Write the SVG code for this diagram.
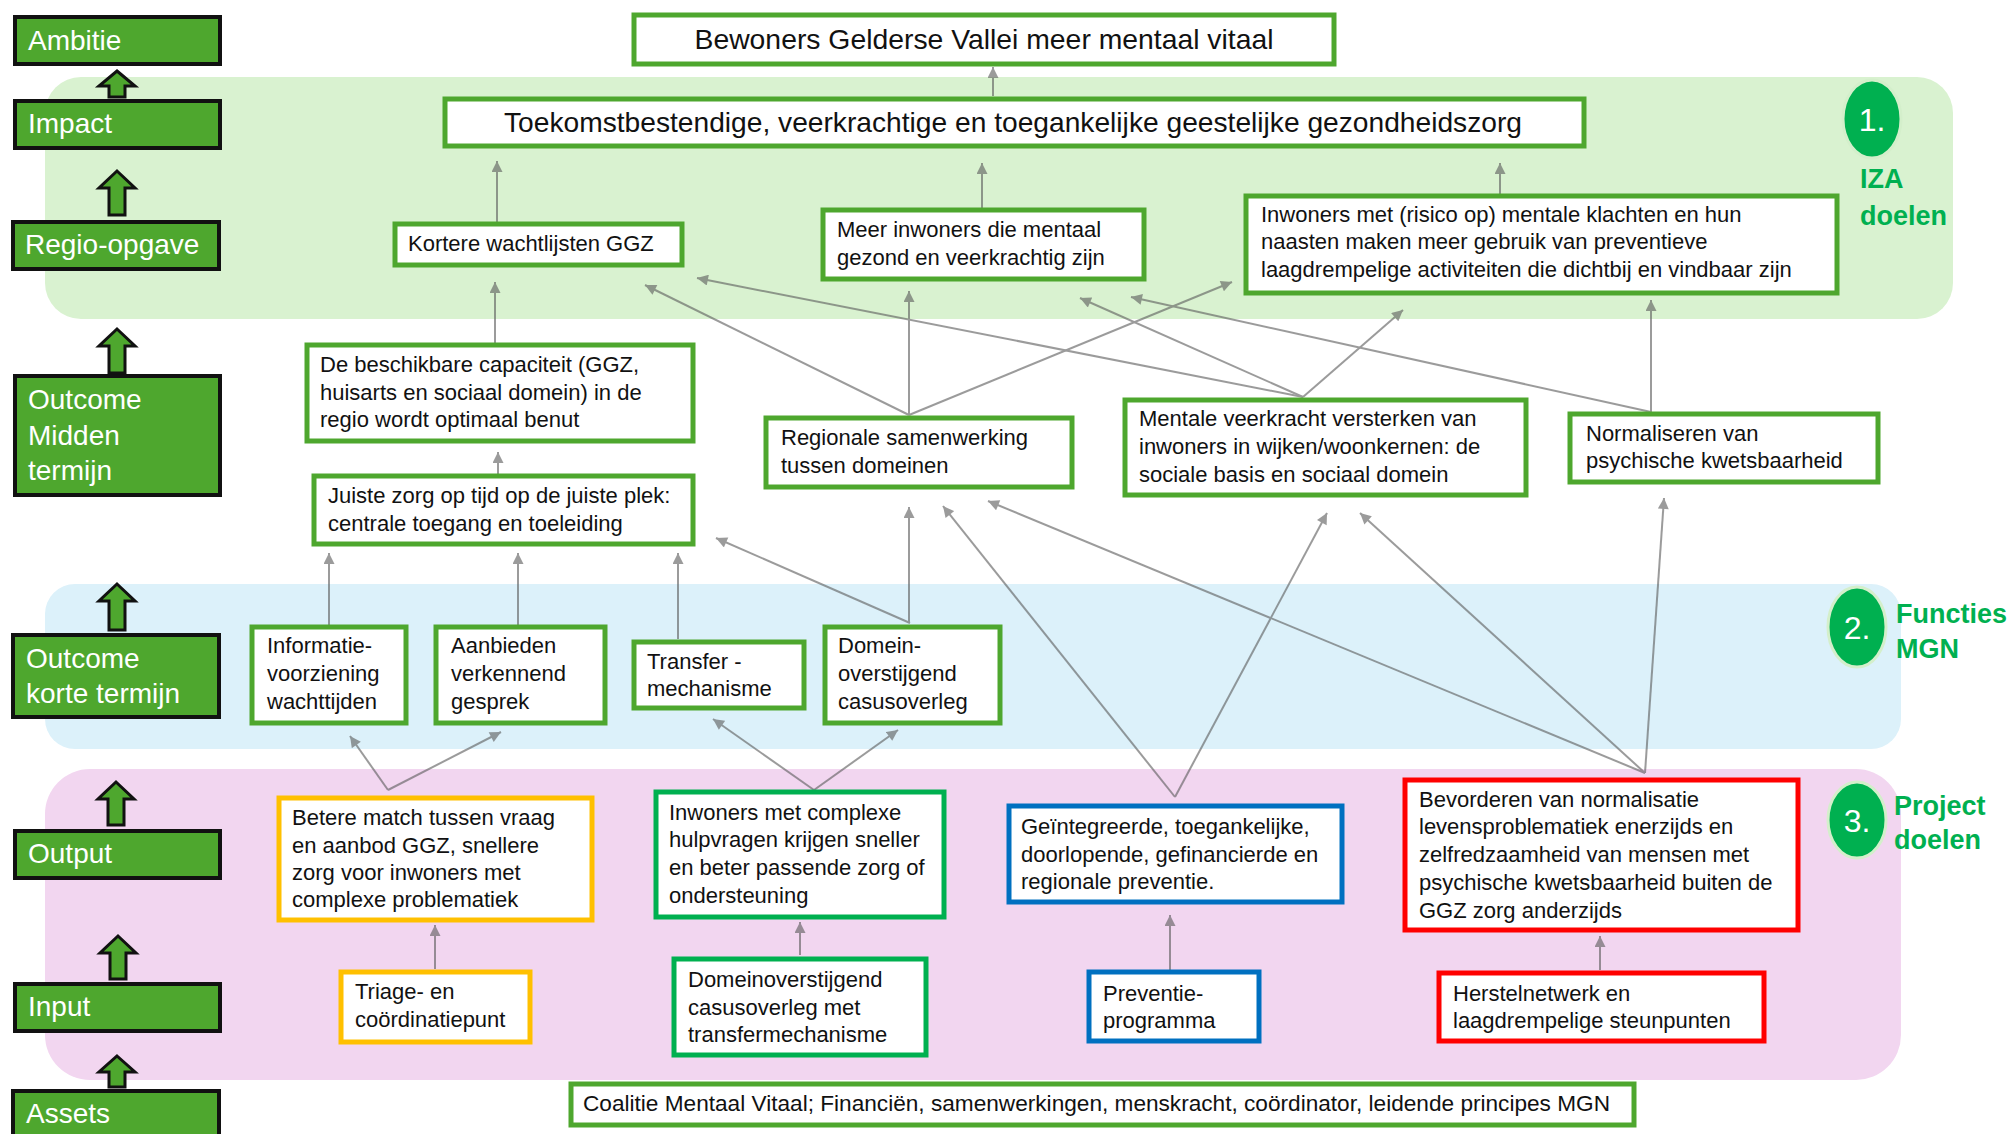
<svg xmlns="http://www.w3.org/2000/svg" width="2014" height="1134" viewBox="0 0 2014 1134">
  <style>
    .lvl { fill: #4EA72E; stroke: #111; stroke-width: 4; }
    .lvlt { font-family: "Liberation Sans", Arial, sans-serif; font-size: 28px; fill: #fff; }
    .blk { fill: #4EA72E; stroke: #111; stroke-width: 3; stroke-linejoin: miter; }
    .box { fill: #fff; stroke-width: 5; }
    .g { stroke: #4EA72E; }
    .y { stroke: #FFC000; }
    .gd { stroke: #00B050; }
    .b { stroke: #0070C0; }
    .r { stroke: #FF0000; }
    .t { font-family: "Liberation Sans", Arial, sans-serif; font-size: 22px; fill: #111; }
    .big { font-family: "Liberation Sans", Arial, sans-serif; font-size: 28px; fill: #111; }
    .num { font-family: "Liberation Sans", Arial, sans-serif; font-size: 32px; fill: #fff; text-anchor: middle; }
    .tag { font-family: "Liberation Sans", Arial, sans-serif; font-size: 27px; font-weight: bold; fill: #00B050; }
    .badge { fill: #00B050; stroke: #D4EFCB; stroke-width: 3; }
    .cn line { stroke: #5a5a5a; stroke-width: 2; marker-end: url(#ah); }
  </style>
  <defs>
    <marker id="ah" viewBox="0 0 10 10" refX="10" refY="5" markerWidth="12" markerHeight="11" markerUnits="userSpaceOnUse" orient="auto">
      <path d="M0,0 L10,5 L0,10 z" fill="#5a5a5a"/>
    </marker>
  </defs>

  <rect width="2014" height="1134" fill="#fff"/>

  <!-- layer bands -->
  <rect id="band-iza" x="45" y="77" width="1908" height="242" rx="36" fill="#D9F2D0"/>
  <rect id="band-functies" x="45" y="584" width="1856" height="165" rx="30" fill="#DCF1FA"/>
  <rect id="band-project" x="45" y="769" width="1856" height="311" rx="45" fill="#F2D6F0"/>

  <!-- level column -->
  <g id="lvl-ambitie"><rect class="lvl" x="15" y="17" width="205" height="47"/><text class="lvlt" x="28" y="50">Ambitie</text></g>
  <g id="lvl-impact"><rect class="lvl" x="15" y="101" width="205" height="47"/><text class="lvlt" x="28" y="133">Impact</text></g>
  <g id="lvl-regio"><rect class="lvl" x="13" y="222" width="206" height="47"/><text class="lvlt" x="25" y="254">Regio-opgave</text></g>
  <g id="lvl-midden"><rect class="lvl" x="15" y="376" width="205" height="119"/><text class="lvlt" x="28" y="409">Outcome<tspan x="28" y="445">Midden</tspan><tspan x="28" y="480">termijn</tspan></text></g>
  <g id="lvl-kort"><rect class="lvl" x="13" y="635" width="206" height="82"/><text class="lvlt" x="26" y="668">Outcome<tspan x="26" y="703">korte termijn</tspan></text></g>
  <g id="lvl-output"><rect class="lvl" x="15" y="831" width="205" height="47"/><text class="lvlt" x="28" y="863">Output</text></g>
  <g id="lvl-input"><rect class="lvl" x="15" y="984" width="205" height="47"/><text class="lvlt" x="28" y="1016">Input</text></g>
  <g id="lvl-assets"><rect class="lvl" x="13" y="1091" width="206" height="60"/><text class="lvlt" x="26" y="1123">Assets</text></g>

  <!-- level arrows -->
  <g id="lvl-arrows">
    <path class="blk" d="M117,71 L135,86 L125,86 L125,97 L109,97 L109,86 L99,86 Z"/>
    <path class="blk" d="M117,171 L135,188 L125,188 L125,215 L109,215 L109,188 L99,188 Z"/>
    <path class="blk" d="M117,329 L135,346 L125,346 L125,373 L109,373 L109,346 L99,346 Z"/>
    <path class="blk" d="M117,584 L135,601 L125,601 L125,630 L109,630 L109,601 L99,601 Z"/>
    <path class="blk" d="M116,782 L134,799 L124,799 L124,825 L108,825 L108,799 L98,799 Z"/>
    <path class="blk" d="M118,936 L136,953 L126,953 L126,979 L110,979 L110,953 L100,953 Z"/>
    <path class="blk" d="M117,1056 L135,1072 L125,1072 L125,1087 L109,1087 L109,1072 L99,1072 Z"/>
  </g>

  <!-- badges -->
  <g id="badge-1"><ellipse class="badge" cx="1872" cy="119" rx="29" ry="39"/><text class="num" x="1872" y="131">1.</text>
    <text class="tag" x="1860" y="188">IZA</text><text class="tag" x="1860" y="225">doelen</text></g>
  <g id="badge-2"><ellipse class="badge" cx="1857" cy="627" rx="29" ry="40"/><text class="num" x="1857" y="639">2.</text>
    <text class="tag" x="1896" y="623">Functies</text><text class="tag" x="1896" y="658">MGN</text></g>
  <g id="badge-3"><ellipse class="badge" cx="1857" cy="820" rx="29" ry="38"/><text class="num" x="1857" y="832">3.</text>
    <text class="tag" x="1894" y="815">Project</text><text class="tag" x="1894" y="849">doelen</text></g>

  <!-- connectors -->
  <g id="connectors" class="cn" opacity="0.6">
    <line x1="993" y1="96" x2="993" y2="67"/>
    <line x1="497" y1="222" x2="497" y2="161"/>
    <line x1="982" y1="208" x2="982" y2="163"/>
    <line x1="1500" y1="194" x2="1500" y2="163"/>
    <line x1="495" y1="343" x2="495" y2="282"/>
    <line x1="498" y1="474" x2="498" y2="452"/>
    <line x1="909" y1="415" x2="645" y2="285"/>
    <line x1="909" y1="415" x2="909" y2="291"/>
    <line x1="909" y1="415" x2="1232" y2="282"/>
    <line x1="1303" y1="397" x2="697" y2="278"/>
    <line x1="1303" y1="397" x2="1080" y2="298"/>
    <line x1="1303" y1="397" x2="1403" y2="310"/>
    <line x1="1651" y1="412" x2="1131" y2="297"/>
    <line x1="1651" y1="412" x2="1651" y2="300"/>
    <line x1="329" y1="625" x2="329" y2="553"/>
    <line x1="518" y1="625" x2="518" y2="553"/>
    <line x1="678" y1="639" x2="678" y2="553"/>
    <line x1="910" y1="623" x2="716" y2="538"/>
    <line x1="909" y1="623" x2="909" y2="507"/>
    <line x1="1175" y1="797" x2="943" y2="506"/>
    <line x1="1175" y1="797" x2="1327" y2="513"/>
    <line x1="1645" y1="773" x2="988" y2="501"/>
    <line x1="1645" y1="773" x2="1360" y2="513"/>
    <line x1="1645" y1="773" x2="1664" y2="498"/>
    <line x1="388" y1="790" x2="350" y2="736"/>
    <line x1="388" y1="790" x2="501" y2="732"/>
    <line x1="814" y1="790" x2="713" y2="719"/>
    <line x1="814" y1="790" x2="898" y2="730"/>
    <line x1="435" y1="969" x2="435" y2="925"/>
    <line x1="800" y1="955" x2="800" y2="922"/>
    <line x1="1170" y1="970" x2="1170" y2="915"/>
    <line x1="1600" y1="970" x2="1600" y2="936"/>
  </g>

  <!-- IZA goals -->
  <g id="n-ambitie"><rect class="box g" x="634" y="15" width="700" height="49"/>
    <text class="big" x="984" y="49" text-anchor="middle" textLength="579" lengthAdjust="spacingAndGlyphs">Bewoners Gelderse Vallei meer mentaal vitaal</text></g>
  <g id="n-impact"><rect class="box g" x="445" y="99" width="1139" height="47"/>
    <text class="big" x="1013" y="132" text-anchor="middle" textLength="1018" lengthAdjust="spacingAndGlyphs">Toekomstbestendige, veerkrachtige en toegankelijke geestelijke gezondheidszorg</text></g>
  <g id="n-wachtlijsten"><rect class="box g" x="395" y="224" width="287" height="41"/>
    <text class="t" x="408" y="251">Kortere wachtlijsten GGZ</text></g>
  <g id="n-veerkrachtig"><rect class="box g" x="823" y="210" width="321" height="69"/>
    <text class="t" x="837" y="237">Meer inwoners die mentaal<tspan x="837" y="265">gezond en veerkrachtig zijn</tspan></text></g>
  <g id="n-preventief"><rect class="box g" x="1246" y="196" width="591" height="97"/>
    <text class="t" x="1261" y="222">Inwoners met (risico op) mentale klachten en hun<tspan x="1261" y="249">naasten maken meer gebruik van preventieve</tspan><tspan x="1261" y="277">laagdrempelige activiteiten die dichtbij en vindbaar zijn</tspan></text></g>

  <!-- medium-term outcomes -->
  <g id="n-capaciteit"><rect class="box g" x="307" y="345" width="386" height="96"/>
    <text class="t" x="320" y="372">De beschikbare capaciteit (GGZ,<tspan x="320" y="400">huisarts en sociaal domein) in de</tspan><tspan x="320" y="427">regio wordt optimaal benut</tspan></text></g>
  <g id="n-juiste-zorg"><rect class="box g" x="314" y="476" width="379" height="68"/>
    <text class="t" x="328" y="503">Juiste zorg op tijd op de juiste plek:<tspan x="328" y="531">centrale toegang en toeleiding</tspan></text></g>
  <g id="n-samenwerking"><rect class="box g" x="766" y="418" width="306" height="69"/>
    <text class="t" x="781" y="445">Regionale samenwerking<tspan x="781" y="473">tussen domeinen</tspan></text></g>
  <g id="n-veerkracht"><rect class="box g" x="1125" y="400" width="401" height="95"/>
    <text class="t" x="1139" y="426">Mentale veerkracht versterken van<tspan x="1139" y="454">inwoners in wijken/woonkernen: de</tspan><tspan x="1139" y="482">sociale basis en sociaal domein</tspan></text></g>
  <g id="n-normaliseren"><rect class="box g" x="1570" y="414" width="308" height="68"/>
    <text class="t" x="1586" y="441">Normaliseren van<tspan x="1586" y="468">psychische kwetsbaarheid</tspan></text></g>

  <!-- MGN functions -->
  <g id="n-informatie"><rect class="box g" x="252" y="627" width="154" height="96"/>
    <text class="t" x="267" y="653">Informatie-<tspan x="267" y="681">voorziening</tspan><tspan x="267" y="709">wachttijden</tspan></text></g>
  <g id="n-gesprek"><rect class="box g" x="436" y="627" width="169" height="96"/>
    <text class="t" x="451" y="653">Aanbieden<tspan x="451" y="681">verkennend</tspan><tspan x="451" y="709">gesprek</tspan></text></g>
  <g id="n-transfer"><rect class="box g" x="634" y="642" width="170" height="66"/>
    <text class="t" x="647" y="669">Transfer -<tspan x="647" y="696">mechanisme</tspan></text></g>
  <g id="n-casusoverleg"><rect class="box g" x="825" y="627" width="175" height="96"/>
    <text class="t" x="838" y="653">Domein-<tspan x="838" y="681">overstijgend</tspan><tspan x="838" y="709">casusoverleg</tspan></text></g>

  <!-- project outputs -->
  <g id="n-match"><rect class="box y" x="279" y="798" width="313" height="122"/>
    <text class="t" x="292" y="825">Betere match tussen vraag<tspan x="292" y="853">en aanbod GGZ, snellere</tspan><tspan x="292" y="880">zorg voor inwoners met</tspan><tspan x="292" y="907">complexe problematiek</tspan></text></g>
  <g id="n-complexe"><rect class="box gd" x="656" y="792" width="288" height="125"/>
    <text class="t" x="669" y="820">Inwoners met complexe<tspan x="669" y="847">hulpvragen krijgen sneller</tspan><tspan x="669" y="875">en beter passende zorg of</tspan><tspan x="669" y="903">ondersteuning</tspan></text></g>
  <g id="n-geintegreerd"><rect class="box b" x="1009" y="806" width="333" height="96"/>
    <text class="t" x="1021" y="834">Geïntegreerde, toegankelijke,<tspan x="1021" y="862">doorlopende, gefinancierde en</tspan><tspan x="1021" y="889">regionale preventie.</tspan></text></g>
  <g id="n-normalisatie"><rect class="box r" x="1405" y="780" width="393" height="150"/>
    <text class="t" x="1419" y="807">Bevorderen van normalisatie<tspan x="1419" y="834">levensproblematiek enerzijds en</tspan><tspan x="1419" y="862">zelfredzaamheid van mensen met</tspan><tspan x="1419" y="890">psychische kwetsbaarheid buiten de</tspan><tspan x="1419" y="918">GGZ zorg anderzijds</tspan></text></g>

  <!-- project inputs -->
  <g id="n-triage"><rect class="box y" x="341" y="972" width="189" height="70"/>
    <text class="t" x="355" y="999">Triage- en<tspan x="355" y="1027">coördinatiepunt</tspan></text></g>
  <g id="n-transfermechanisme"><rect class="box gd" x="674" y="959" width="252" height="96"/>
    <text class="t" x="688" y="987">Domeinoverstijgend<tspan x="688" y="1015">casusoverleg met</tspan><tspan x="688" y="1042">transfermechanisme</tspan></text></g>
  <g id="n-preventieprogramma"><rect class="box b" x="1089" y="972" width="170" height="69"/>
    <text class="t" x="1103" y="1001">Preventie-<tspan x="1103" y="1028">programma</tspan></text></g>
  <g id="n-herstelnetwerk"><rect class="box r" x="1439" y="973" width="325" height="68"/>
    <text class="t" x="1453" y="1001">Herstelnetwerk en<tspan x="1453" y="1028">laagdrempelige steunpunten</tspan></text></g>

  <!-- assets -->
  <g id="n-coalitie"><rect class="box g" x="571" y="1084" width="1063" height="41"/>
    <text class="t" x="583" y="1111" textLength="1027" lengthAdjust="spacingAndGlyphs">Coalitie Mentaal Vitaal; Financiën, samenwerkingen,  menskracht, coördinator, leidende principes MGN</text></g>
</svg>
